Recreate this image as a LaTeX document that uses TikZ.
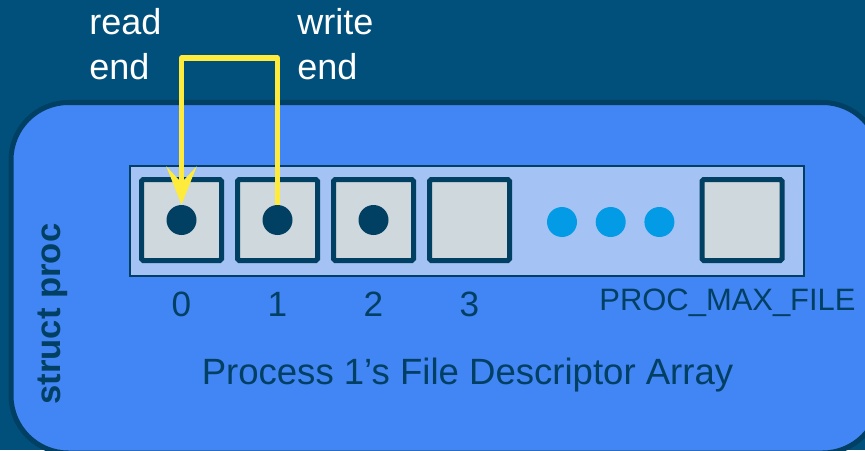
\documentclass[tikz,border=0pt]{standalone}
\usepackage{fontspec}
\setmainfont{Liberation Sans}
\usepackage{xcolor}
\usepackage{tikz}
\usetikzlibrary{arrows.meta,positioning,calc}
\definecolor{slidebg}{RGB}{1,80,123}
\definecolor{procblue}{RGB}{66,133,244}
\definecolor{navy}{RGB}{1,63,99}
\definecolor{arraybg}{RGB}{164,194,244}
\definecolor{slotgray}{RGB}{207,216,220}
\definecolor{dotcyan}{RGB}{3,155,229}
\definecolor{pipeyellow}{RGB}{255,235,59}

\begin{document}
\begin{tikzpicture}[
  slot/.style={draw=navy, line width=0.1cm, fill=slotgray, rounded corners=1pt,
    minimum width=1.6cm, minimum height=1.62cm, inner sep=0pt, outer sep=0pt},
  fd/.style={circle, fill=navy, minimum size=0.6cm, inner sep=0pt},
  more/.style={circle, fill=dotcyan, minimum size=0.6cm, inner sep=0pt},
  idx/.style={text=navy, font=\fontsize{20}{23}\selectfont, anchor=base, inner sep=0pt},
  endlbl/.style={text=white, align=left, anchor=west, inner sep=0pt,
    font=\fontsize{20.5}{25.6}\selectfont},
  pipe/.style={line width=0.105cm, pipeyellow, line join=round}
]
\useasboundingbox (0,0) rectangle (17.3,9);
\fill[slidebg] (0,0) rectangle (17.3,9);
\begin{scope}
\clip (0,0) rectangle (17.3,9);
\draw[line width=0.1cm, draw=navy, fill=procblue, rounded corners=1.15cm] (0.22,-0.06) rectangle (17.6,6.95);
\end{scope}
\node[draw=navy, line width=0.8pt, fill=arraybg, minimum width=13.48cm, minimum height=2.2cm, inner sep=0pt] (fdarray) at (9.34,4.58) {};
\node[slot] (slot0) at (3.63,4.6) {};
\node[slot, right=0.32cm of slot0] (slot1) {};
\node[slot, right=0.32cm of slot1] (slot2) {};
\node[slot, right=0.32cm of slot2] (slot3) {};
\node[slot] (slotmax) at (14.84,4.6) {};
\node[fd] (fd0) at (slot0) {};
\node[fd] (fd1) at (slot1) {};
\node[fd] (fd2) at (slot2) {};
\node[more] (more1) at (11.24,4.56) {};
\node[more, right=0.36cm of more1] (more2) {};
\node[more, right=0.36cm of more2] (more3) {};
\node[idx] (idx0) at (slot0 |- 0,2.68) {0};
\node[idx] (idx1) at (slot1 |- 0,2.68) {1};
\node[idx] (idx2) at (slot2 |- 0,2.68) {2};
\node[idx] (idx3) at (slot3 |- 0,2.68) {3};
\node[idx, font=\fontsize{17.6}{20}\selectfont] (idxmax) at (14.55,2.8) {PROC\_MAX\_FILE};
\node[text=navy, anchor=base, inner sep=0pt, font=\fontsize{20.8}{25}\selectfont] (caption) at (9.35,1.32) {Process 1’s File Descriptor Array};
\node[rotate=90, text=navy, inner sep=0pt, font=\bfseries\fontsize{19.7}{23}\selectfont] (structproc) at (1.06,2.72) {struct proc};
\node[endlbl] (readend) at (1.78,8.11) {read\\end};
\node[endlbl] (writeend) at (5.94,8.11) {write\\end};
\coordinate (pipetop) at (0,7.84);
\draw[pipe, -{Stealth[length=0.76cm,width=0.6cm,inset=0.32cm]}] (fd1) |- (pipetop -| fd0) -- (fd0);
\end{tikzpicture}
\end{document}
